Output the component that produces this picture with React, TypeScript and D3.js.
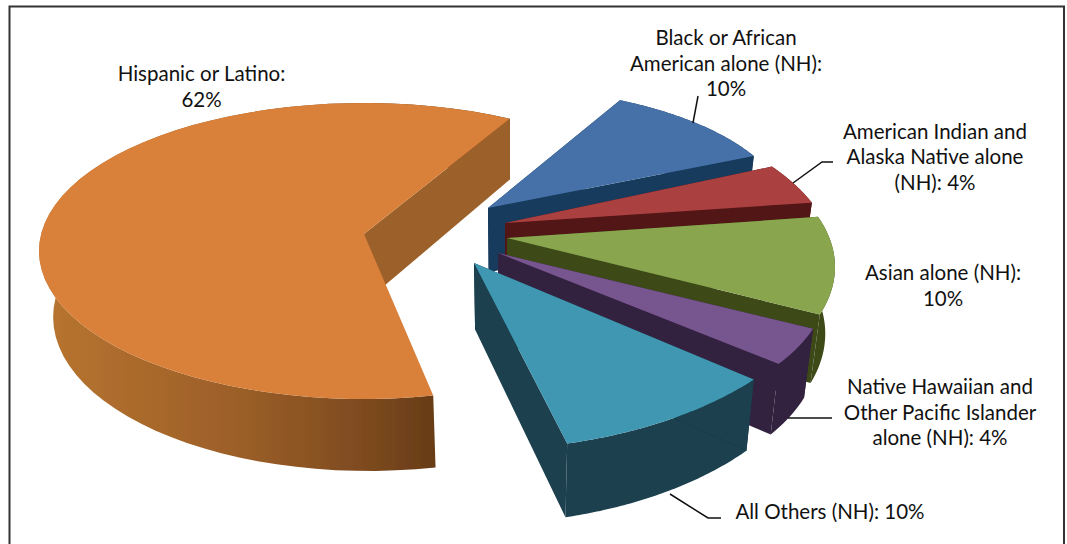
import React from "react";
import * as d3 from "d3";

const categories = ["Black or African American alone (NH)", "American Indian and Alaska Native alone (NH)", "Asian alone (NH)", "Native Hawaiian and Other Pacific Islander alone (NH)", "All Others (NH)", "Hispanic or Latino"];
const values = [10, 4, 10, 4, 10, 62];
const topColors = ["#4571a8", "#aa4040", "#89a54e", "#77548f", "#3f97b1", "#d9813a"];
const wallColors = ["#183a5c", "#531414", "#3c4a18", "#33213f", "#1a3f4e", "#9c6029"];
const labelLines = [
  ["Black or African", "American alone (NH):", "10%"],
  ["American Indian and", "Alaska Native alone", "(NH): 4%"],
  ["Asian alone (NH):", "10%"],
  ["Native Hawaiian and", "Other Pacific Islander", "alone (NH): 4%"],
  ["All Others (NH): 10%"],
  ["Hispanic or Latino:", "62%"],
];
const labelAnchors = [[726, 45], [935, 138.5], [943, 280], [940, 394], [830, 519], [201.5, 81]];
const leaders = [
  [[698, 96], [693, 123]],
  [[833, 162], [822, 162], [793, 183]],
  [],
  [[832, 418], [788, 418]],
  [[721, 518], [708, 518], [670, 494]],
  [],
];
// Exploded tip of each slice on the page, and the projected rim ellipse seen from that tip
const tips = [[488, 208], [505, 223], [507, 238], [498, 253], [474, 263], [364, 234]];
const rimRx = [301, 330, 328, 330, 360, 325];
const rimRy = [130, 164, 158, 154, 190, 148];
const rimDy = [9, 40, 29, 30, -3, 17];
const rimStart = [26, 54, 71.5, 107.3, 129, 167.7];
const rimSweep = [1, 1, 1, 1, 1, 0.981];

const W = 1067, H = 544;
const VX = 510, SHRINK = 0.97;

const down = (p: number[]) => [VX + (p[0] - VX) * SHRINK, p[1] + 60 + (p[1] - 100) * 0.04];

export default function App() {
  const arcs = d3.pie<number>().sort(null)(values);
  const line = d3.line();
  const order = [5, 0, 1, 2, 3, 4];
  return (
    <svg width={W} height={H} viewBox={`0 0 ${W} ${H}`} style={{ position: "absolute", left: 0, top: 0, background: "#fff" }}>
      <defs>
        <linearGradient id="orangeWall" gradientUnits="userSpaceOnUse" x1="40" x2="434" y1="0" y2="0">
          <stop offset="0" stopColor="#b87530" />
          <stop offset="0.5" stopColor="#9c5f28" />
          <stop offset="0.8" stopColor="#804c20" />
          <stop offset="1" stopColor="#683c17" />
        </linearGradient>
        <filter id="soft" x="-5%" y="-5%" width="110%" height="110%">
          <feGaussianBlur stdDeviation="0.5" />
        </filter>
      </defs>
      <path d="M9.5 544V6.5H1064V544" fill="none" stroke="#333" strokeWidth={2} />
      <g filter="url(#soft)">
        {order.map((i) => {
          const d = arcs[i];
          const tip = tips[i];
          const t0 = (rimStart[i] * Math.PI) / 180;
          const sweep = (d.endAngle - d.startAngle) * rimSweep[i];
          const rim = d3.range(0, 61).map((k) => {
            const t = t0 + (sweep * k) / 60;
            return [tip[0] + rimRx[i] * Math.sin(t), tip[1] + rimDy[i] - rimRy[i] * Math.cos(t)];
          }) as [number, number][];
          const top = [tip, ...rim] as [number, number][];
          const rimDown = rim.map(down) as [number, number][];
          const tipDown = down(tip) as [number, number];
          const wall1 = [tip, rim[0], rimDown[0], tipDown] as [number, number][];
          const wall2 = [tip, rim[60], rimDown[60], tipDown] as [number, number][];
          const outer = [...rim, ...rimDown.slice().reverse()] as [number, number][];
          return (
            <g key={categories[i]}>
              <path d={line(outer) + "Z"} fill={i === 5 ? "url(#orangeWall)" : wallColors[i]} />
              <path d={line(wall1) + "Z"} fill={i === 5 ? "none" : wallColors[i]} />
              <path d={line(wall2) + "Z"} fill={wallColors[i]} />
              <path d={line(top) + "Z"} fill={topColors[i]} />
            </g>
          );
        })}
      </g>
      {leaders.map((pts, i) =>
        pts.length ? <path key={i} d={line(pts as [number, number][]) ?? ""} fill="none" stroke="#111" strokeWidth={1.5} /> : null
      )}
      {labelLines.map((ls, i) => (
        <text key={i} textAnchor="middle" fontFamily="Lato" fontSize={20.5} fill="#111">
          {ls.map((t, j) => (
            <tspan key={j} x={labelAnchors[i][0]} y={labelAnchors[i][1] + j * 25.7}>{t}</tspan>
          ))}
        </text>
      ))}
    </svg>
  );
}
